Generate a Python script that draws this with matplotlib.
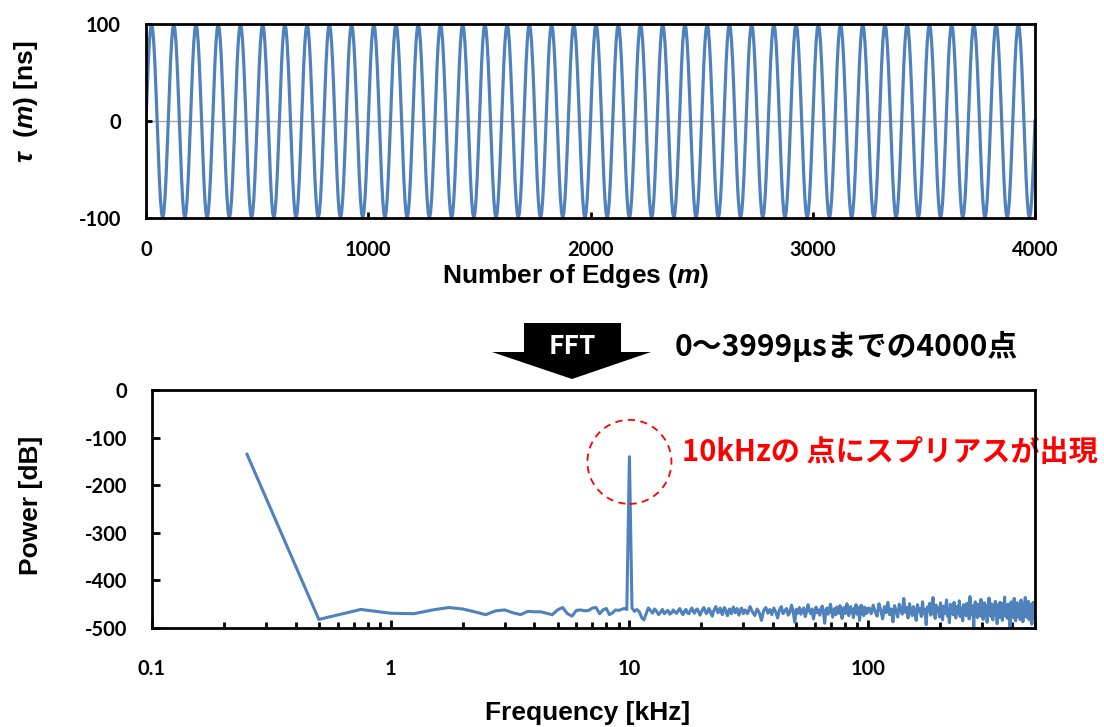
import numpy as np
import matplotlib
import matplotlib.pyplot as plt
from matplotlib.patches import Circle, Polygon
from matplotlib.ticker import FixedLocator, LogLocator, NullFormatter, FixedFormatter
from matplotlib.transforms import ScaledTranslation

matplotlib.use("Agg")

# ---- data ----
# top panel: tau(m) in ns, one period sampled every 5 edges, repeated for 40 periods
edge_step = 5
n_periods = 40
tau_cycle_ns = [0, 31, 59, 81, 95, 100, 95, 81, 59, 31,
                0, -31, -59, -81, -95, -100, -95, -81, -59, -31]

# bottom panel: FFT bins (bin width 0.25 kHz) and power in dB
bin_khz = 0.25
spur_khz = 10.0
low_bins = np.arange(1, 43)
low_db = [-135, -482, -461, -469, -470, -462, -457, -460, -466, -472,
          -464, -462, -468, -472, -465, -466, -466, -469, -472, -462,
          -457, -470, -475, -463, -462, -464, -463, -458, -457, -470,
          -462, -459, -472, -468, -462, -463, -461, -459, -461, -140,
          -458, -465]
mid_bins = np.arange(43, 121)
mid_db = [-461, -466, -478, -483, -470, -458, -463, -469, -460, -465,
          -472, -467, -461, -470, -466, -463, -471, -468, -462, -466,
          -469, -464, -459, -467, -472, -465, -461, -468, -470, -463,
          -458, -465, -469, -462, -460, -466, -473, -467, -461, -457,
          -464, -470, -466, -459, -463, -471, -475, -465, -460, -455,
          -462, -468, -464, -458, -466, -472, -463, -457, -461, -469,
          -474, -466, -460, -464, -470, -462, -456, -463, -468, -465,
          -459, -466, -473, -467, -461, -458, -464, -470]
high_bins = np.arange(122, 400, 3)
high_db = [-462, -470, -455, -466, -474, -460, -468, -484, -463, -457,
           -469, -461, -472, -458, -466, -479, -462, -455, -470, -464,
           -459, -473, -467, -452, -465, -488, -461, -469, -457, -471,
           -463, -458, -476, -466, -451, -464, -470, -460, -481, -465,
           -456, -468, -462, -473, -459, -454, -467, -490, -463, -458,
           -471, -465, -450, -462, -477, -466, -459, -472, -456, -464,
           -469, -453, -467, -480, -461, -457, -470, -463, -449, -466,
           -474, -460, -455, -468, -462, -478, -458, -465, -451, -471,
           -463, -457, -484, -466, -452, -469, -461, -474, -456, -464,
           -470, -459, -467]
top_bins = np.arange(404, 2000, 8)
top_db = [-458, -470, -452, -466, -475, -449, -463, -481, -455, -468,
          -446, -472, -460, -487, -453, -465, -477, -450, -462, -471,
          -438, -467, -457, -479, -449, -463, -474, -455, -468, -484,
          -451, -466, -459, -476, -445, -470, -461, -493, -456, -464,
          -448, -473, -462, -436, -469, -480, -452, -465, -458, -477,
          -447, -466, -483, -454, -470, -460, -441, -475, -463, -489,
          -450, -468, -457, -472, -446, -465, -479, -455, -461, -470,
          -443, -476, -458, -466, -485, -451, -469, -462, -474, -448,
          -467, -456, -481, -434, -464, -472, -453, -468, -497, -459,
          -445, -471, -463, -478, -450, -466, -458, -475, -440, -469,
          -455, -482, -461, -447, -473, -464, -452, -488, -467, -457,
          -437, -470, -460, -476, -449, -465, -483, -454, -468, -462,
          -444, -474, -458, -491, -451, -467, -463, -478, -446, -470,
          -456, -465, -484, -448, -472, -459, -435, -468, -476, -453,
          -466, -480, -450, -463, -471, -457, -500, -465, -445, -474,
          -460, -469, -452, -479, -438, -467, -461, -485, -455, -471,
          -447, -464, -476, -458, -469, -451, -482, -462, -441, -473,
          -456, -468, -487, -449, -466, -460, -475, -436, -470, -463,
          -453, -478, -459, -467, -444, -472, -483, -457, -465, -450,
          -469, -461, -492, -454, -473, -446, -466, -479, -458, -470]

x_ticks_top = [0, 1000, 2000, 3000, 4000]
y_ticks_top = [-100, 0, 100]
x_ticks_bot = [0.1, 1, 10, 100]
x_ticklabels_bot = ["0.1", "1", "10", "100"]
y_ticks_bot = [0, -100, -200, -300, -400, -500]

tau_ns = np.append(np.tile(tau_cycle_ns, n_periods), 0)
edges = np.arange(len(tau_ns)) * edge_step

bins = np.concatenate([low_bins, mid_bins, high_bins, top_bins])
freq_khz = bins * bin_khz
power_db = np.concatenate([low_db, mid_db, high_db, top_db])

# ---- style ----
BLUE = "#4F81BD"
W, H = 1104, 727
plt.rcParams["font.family"] = ["Lato", "DejaVu Sans"]
plt.rcParams["font.weight"] = "bold"
plt.rcParams["axes.unicode_minus"] = False
plt.rcParams["mathtext.fontset"] = "custom"
plt.rcParams["mathtext.it"] = "Liberation Sans:italic:bold"
plt.rcParams["mathtext.rm"] = "Liberation Sans:bold"
LABEL_FONT = dict(family="Liberation Sans", weight="bold", size=19)
JP = ["Noto Sans CJK JP", "DejaVu Sans"]


def fig_xy(px, py):
    # pixel position in the 1104x727 image -> figure fraction
    return px / W, 1 - py / H


def frame(ax):
    for s in ax.spines.values():
        s.set_linewidth(2)
        s.set_color("black")


fig = plt.figure(figsize=(W / 100, H / 100), dpi=100)

# ---- top: tau(m) ----
ax_t = fig.add_axes([146 / W, 1 - 218 / H, 889 / W, 194 / H])
ax_t.axhline(0, color="#A6A6A6", lw=1, zorder=1)
ax_t.plot(edges, tau_ns, color=BLUE, lw=2.3, zorder=2)
ax_t.set_xlim(0, 4000)
ax_t.set_ylim(-100, 100)
ax_t.set_xticks(x_ticks_top)
ax_t.set_yticks(y_ticks_top)
ax_t.tick_params(direction="in", length=4, width=2, labelsize=14.5)
ax_t.tick_params(axis="x", pad=16)
ax_t.tick_params(axis="y", pad=18)
frame(ax_t)
ax_t.set_xlabel("Number of Edges ($m$)", va="center", **LABEL_FONT)
ax_t.xaxis.set_label_coords(0.483, -0.30)
ax_t.set_ylabel(r"$\tau$  ($m$) [ns]", va="center", **LABEL_FONT)
ax_t.yaxis.set_label_coords(-0.135, 0.6)

# ---- bottom: FFT power ----
ax_b = fig.add_axes([152 / W, 1 - 628 / H, 883 / W, 238 / H])
ax_b.semilogx(freq_khz, power_db, color=BLUE, lw=2.2, zorder=2)
ax_b.set_xlim(0.1, 500)
ax_b.set_ylim(-500, 0)
ax_b.xaxis.set_major_locator(FixedLocator(x_ticks_bot))
ax_b.xaxis.set_major_formatter(FixedFormatter(x_ticklabels_bot))
ax_b.xaxis.set_minor_locator(LogLocator(base=10, subs=np.arange(2, 10)))
ax_b.xaxis.set_minor_formatter(NullFormatter())
ax_b.set_yticks(y_ticks_bot)
ax_b.tick_params(which="major", direction="in", length=6, width=2, labelsize=14.5)
ax_b.tick_params(which="minor", direction="in", length=4, width=2)
ax_b.tick_params(axis="x", which="major", pad=22)
ax_b.tick_params(axis="y", which="major", pad=18)
frame(ax_b)
ax_b.set_xlabel("Frequency [kHz]", va="center", **LABEL_FONT)
ax_b.xaxis.set_label_coords(0.493, -0.357)
ax_b.set_ylabel("Power [dB]", va="center", **LABEL_FONT)
ax_b.yaxis.set_label_coords(-0.137, 0.517)

# dashed circle round the spur, 0.42 in radius, centred just under its peak
spur_i = int(np.argmin(np.abs(freq_khz - spur_khz)))
spur_center = ScaledTranslation(freq_khz[spur_i], power_db[spur_i] - 11, ax_b.transData)
ax_b.add_patch(Circle((0, 0), 0.42, transform=fig.dpi_scale_trans + spur_center,
                      fill=False, edgecolor="red", lw=1.3, linestyle=(0, (4, 3)),
                      clip_on=False, zorder=3))
ax_b.text(*fig_xy(682, 452), "10kHzの 点にスプリアスが出現", transform=fig.transFigure,
          color="red", fontsize=21, fontweight="bold", family=JP,
          ha="left", va="center", clip_on=False, zorder=1)

# ---- FFT arrow between the panels ----
arrow_px = [(524, 323), (621, 323), (621, 352), (651, 352), (572, 379),
            (492, 352), (524, 352)]
fig.add_artist(Polygon([fig_xy(x, y) for x, y in arrow_px], closed=True,
                       transform=fig.transFigure, facecolor="black", edgecolor="none"))
fig.text(*fig_xy(572, 346), "FFT", color="white", fontsize=19, fontweight="bold",
         family=JP, ha="center", va="center")
fig.text(*fig_xy(675, 346), "0〜3999μsまでの4000点", color="black", fontsize=21.5,
         fontweight="bold", family=JP, ha="left", va="center")

fig.savefig("out.png", dpi=100)
